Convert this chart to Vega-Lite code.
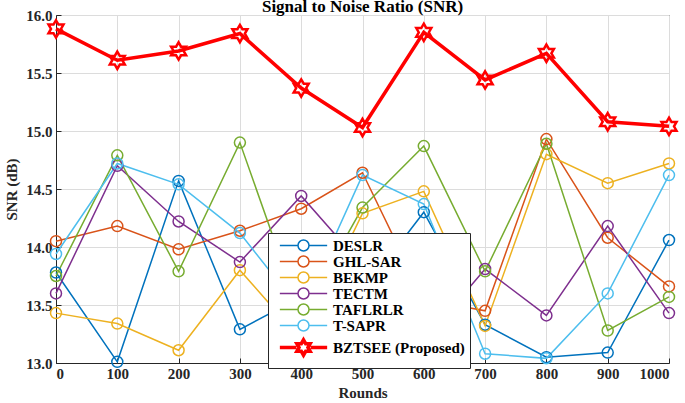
{
  "$schema": "https://vega.github.io/schema/vega-lite/v6.json",
  "autosize": "none",
  "width": 613,
  "height": 348,
  "padding": {"left": 56, "top": 15, "right": 16, "bottom": 40},
  "background": "white",
  "title": {
    "text": "Signal to Noise Ratio (SNR)",
    "font": "Liberation Serif",
    "fontSize": 17,
    "fontWeight": "bold",
    "color": "#000000",
    "baseline": "top",
    "offset": 0,
    "dy": 8
  },
  "config": {
    "view": {"stroke": "#262626", "strokeWidth": 1},
    "axis": {
      "labelFont": "Liberation Serif",
      "labelFontWeight": "bold",
      "labelFontSize": 15,
      "labelColor": "#262626",
      "titleFont": "Liberation Serif",
      "titleFontWeight": "bold",
      "titleFontSize": 15,
      "titleColor": "#262626",
      "domainColor": "#262626",
      "tickColor": "#262626",
      "gridColor": "#dcdcdc",
      "gridWidth": 1
    }
  },
  "data": {
    "values": [
      {"round": 0, "method": "DESLR", "snr": 13.78},
      {"round": 100, "method": "DESLR", "snr": 13.01},
      {"round": 200, "method": "DESLR", "snr": 14.57},
      {"round": 300, "method": "DESLR", "snr": 13.29},
      {"round": 400, "method": "DESLR", "snr": 13.57},
      {"round": 500, "method": "DESLR", "snr": 13.61},
      {"round": 600, "method": "DESLR", "snr": 14.30},
      {"round": 700, "method": "DESLR", "snr": 13.33},
      {"round": 800, "method": "DESLR", "snr": 13.05},
      {"round": 900, "method": "DESLR", "snr": 13.09},
      {"round": 1000, "method": "DESLR", "snr": 14.06},
      {"round": 0, "method": "GHL-SAR", "snr": 14.05},
      {"round": 100, "method": "GHL-SAR", "snr": 14.18},
      {"round": 200, "method": "GHL-SAR", "snr": 13.98},
      {"round": 300, "method": "GHL-SAR", "snr": 14.14},
      {"round": 400, "method": "GHL-SAR", "snr": 14.33},
      {"round": 500, "method": "GHL-SAR", "snr": 14.64},
      {"round": 600, "method": "GHL-SAR", "snr": 13.55},
      {"round": 700, "method": "GHL-SAR", "snr": 13.45},
      {"round": 800, "method": "GHL-SAR", "snr": 14.93},
      {"round": 900, "method": "GHL-SAR", "snr": 14.08},
      {"round": 1000, "method": "GHL-SAR", "snr": 13.66},
      {"round": 0, "method": "BEKMP", "snr": 13.43},
      {"round": 100, "method": "BEKMP", "snr": 13.34},
      {"round": 200, "method": "BEKMP", "snr": 13.11},
      {"round": 300, "method": "BEKMP", "snr": 13.80},
      {"round": 400, "method": "BEKMP", "snr": 13.20},
      {"round": 500, "method": "BEKMP", "snr": 14.29},
      {"round": 600, "method": "BEKMP", "snr": 14.48},
      {"round": 700, "method": "BEKMP", "snr": 13.32},
      {"round": 800, "method": "BEKMP", "snr": 14.80},
      {"round": 900, "method": "BEKMP", "snr": 14.55},
      {"round": 1000, "method": "BEKMP", "snr": 14.72},
      {"round": 0, "method": "TECTM", "snr": 13.60},
      {"round": 100, "method": "TECTM", "snr": 14.70},
      {"round": 200, "method": "TECTM", "snr": 14.22},
      {"round": 300, "method": "TECTM", "snr": 13.87},
      {"round": 400, "method": "TECTM", "snr": 14.44},
      {"round": 500, "method": "TECTM", "snr": 13.84},
      {"round": 600, "method": "TECTM", "snr": 13.19},
      {"round": 700, "method": "TECTM", "snr": 13.81},
      {"round": 800, "method": "TECTM", "snr": 13.41},
      {"round": 900, "method": "TECTM", "snr": 14.18},
      {"round": 1000, "method": "TECTM", "snr": 13.43},
      {"round": 0, "method": "TAFLRLR", "snr": 13.75},
      {"round": 100, "method": "TAFLRLR", "snr": 14.79},
      {"round": 200, "method": "TAFLRLR", "snr": 13.79},
      {"round": 300, "method": "TAFLRLR", "snr": 14.90},
      {"round": 400, "method": "TAFLRLR", "snr": 13.40},
      {"round": 500, "method": "TAFLRLR", "snr": 14.34},
      {"round": 600, "method": "TAFLRLR", "snr": 14.87},
      {"round": 700, "method": "TAFLRLR", "snr": 13.79},
      {"round": 800, "method": "TAFLRLR", "snr": 14.89},
      {"round": 900, "method": "TAFLRLR", "snr": 13.28},
      {"round": 1000, "method": "TAFLRLR", "snr": 13.57},
      {"round": 0, "method": "T-SAPR", "snr": 13.94},
      {"round": 100, "method": "T-SAPR", "snr": 14.72},
      {"round": 200, "method": "T-SAPR", "snr": 14.54},
      {"round": 300, "method": "T-SAPR", "snr": 14.12},
      {"round": 400, "method": "T-SAPR", "snr": 13.45},
      {"round": 500, "method": "T-SAPR", "snr": 14.62},
      {"round": 600, "method": "T-SAPR", "snr": 14.37},
      {"round": 700, "method": "T-SAPR", "snr": 13.08},
      {"round": 800, "method": "T-SAPR", "snr": 13.04},
      {"round": 900, "method": "T-SAPR", "snr": 13.60},
      {"round": 1000, "method": "T-SAPR", "snr": 14.62},
      {"round": 0, "method": "BZTSEE (Proposed)", "snr": 15.88},
      {"round": 100, "method": "BZTSEE (Proposed)", "snr": 15.61},
      {"round": 200, "method": "BZTSEE (Proposed)", "snr": 15.69},
      {"round": 300, "method": "BZTSEE (Proposed)", "snr": 15.84},
      {"round": 400, "method": "BZTSEE (Proposed)", "snr": 15.37},
      {"round": 500, "method": "BZTSEE (Proposed)", "snr": 15.03},
      {"round": 600, "method": "BZTSEE (Proposed)", "snr": 15.85},
      {"round": 700, "method": "BZTSEE (Proposed)", "snr": 15.44},
      {"round": 800, "method": "BZTSEE (Proposed)", "snr": 15.67},
      {"round": 900, "method": "BZTSEE (Proposed)", "snr": 15.08},
      {"round": 1000, "method": "BZTSEE (Proposed)", "snr": 15.04}
    ]
  },
  "encoding": {
    "x": {
      "field": "round",
      "type": "quantitative",
      "title": "Rounds",
      "scale": {"domain": [0, 1000], "nice": false},
      "axis": {"values": [0, 100, 200, 300, 400, 500, 600, 700, 800, 900, 1000], "format": "d", "tickSize": -5, "labelPadding": 8, "titlePadding": 4}
    },
    "y": {
      "field": "snr",
      "type": "quantitative",
      "title": "SNR (dB)",
      "scale": {"domain": [13, 16], "nice": false, "zero": false},
      "axis": {"values": [13, 13.5, 14, 14.5, 15, 15.5, 16], "tickSize": -5, "labelPadding": 9, "titlePadding": 6}
    },
    "color": {
      "field": "method",
      "type": "nominal",
      "sort": ["DESLR", "GHL-SAR", "BEKMP", "TECTM", "TAFLRLR", "T-SAPR", "BZTSEE (Proposed)"],
      "scale": {
        "domain": ["DESLR", "GHL-SAR", "BEKMP", "TECTM", "TAFLRLR", "T-SAPR", "BZTSEE (Proposed)"],
        "range": ["#0072BD", "#D95319", "#EDB120", "#7E2F8E", "#77AC30", "#4DBEEE", "#FF0000"]
      },
      "legend": {
        "title": null,
        "orient": "none",
        "legendX": 212,
        "legendY": 218,
        "direction": "vertical",
        "fillColor": "white",
        "strokeColor": "#262626",
        "padding": 5,
        "symbolType": "M-4.3,0L-1,0M1,0L4.3,0M1,0A1,1,0,1,1,-1,0A1,1,0,1,1,1,0",
        "symbolSize": 121,
        "symbolFillColor": "transparent",
        "symbolStrokeWidth": 1.5,
        "symbolOffset": 23,
        "labelOffset": 22,
        "labelFont": "Liberation Serif",
        "labelFontWeight": "bold",
        "labelFontSize": 15,
        "labelColor": "#000000",
        "rowPadding": -2,
        "labelLimit": 300,
        "encode": {
          "symbols": {
            "update": {
              "shape": {"signal": "datum.value === 'BZTSEE (Proposed)' ? 'M-4.3,0L-1.3,0M1.3,0L4.3,0M0,-1.4L0.4,-0.7L1.21,-0.7L0.81,0L1.21,0.7L0.4,0.7L0,1.4L-0.4,0.7L-1.21,0.7L-0.81,0L-1.21,-0.7L-0.4,-0.7Z' : 'M-4.3,0L-1,0M1,0L4.3,0M1,0A1,1,0,1,1,-1,0A1,1,0,1,1,1,0'"},
              "strokeWidth": {"signal": "datum.value === 'BZTSEE (Proposed)' ? 3.5 : 1.5"},
              "fill": {"value": "transparent"}
            }
          }
        }
      }
    }
  },
  "layer": [
    {
      "mark": {"type": "line"},
      "encoding": {
        "strokeWidth": {
          "condition": {"test": "datum.method === 'BZTSEE (Proposed)'", "value": 3.5},
          "value": 1.5
        }
      }
    },
    {
      "transform": [{"filter": "datum.method !== 'BZTSEE (Proposed)'"}],
      "mark": {"type": "point", "shape": "circle", "filled": false, "size": 121, "strokeWidth": 1.5, "opacity": 1}
    },
    {
      "transform": [{"filter": "datum.method === 'BZTSEE (Proposed)'"}],
      "mark": {
        "type": "point",
        "shape": "M0,-1L0.2887,-0.5L0.866,-0.5L0.5774,0L0.866,0.5L0.2887,0.5L0,1L-0.2887,0.5L-0.866,0.5L-0.5774,0L-0.866,-0.5L-0.2887,-0.5Z",
        "filled": false,
        "size": 300,
        "strokeWidth": 2.5,
        "opacity": 1
      }
    }
  ]
}
